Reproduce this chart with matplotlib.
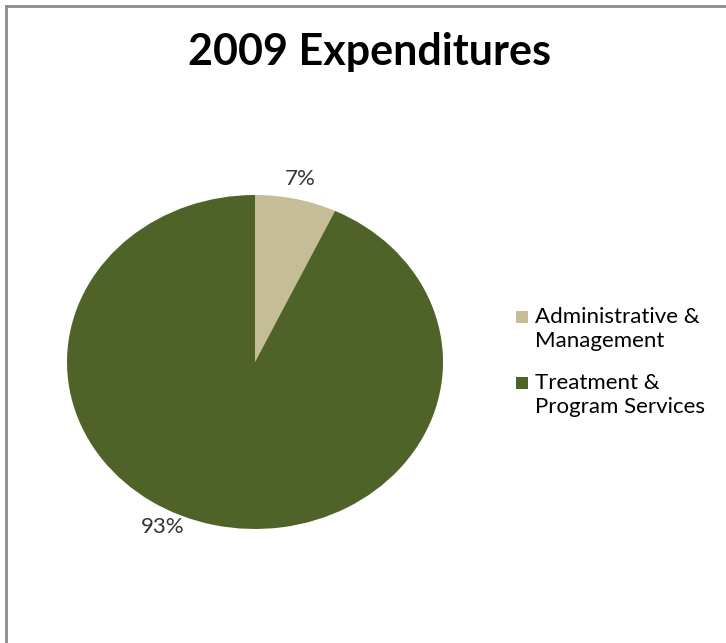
import matplotlib
matplotlib.use("Agg")
import matplotlib.pyplot as plt
from matplotlib.patches import Rectangle
import numpy as np

categories = ["Administrative &\nManagement", "Treatment &\nProgram Services"]
shares = [7, 93]
colors = ["#C4BD97", "#4F6228"]
title = "2009 Expenditures"

plt.rcParams["font.family"] = ["Lato", "DejaVu Sans"]

fig = plt.figure(figsize=(7.26, 6.43), dpi=100)
fig.patch.set_facecolor("white")

# chart frame (left and top edges visible)
fig.add_artist(plt.Line2D([6 / 726, 6 / 726], [0, 1 - 6 / 643], transform=fig.transFigure,
                          color="#8C8C8C", lw=2))
fig.add_artist(plt.Line2D([6 / 726, 1], [1 - 6 / 643, 1 - 6 / 643], transform=fig.transFigure,
                          color="#8C8C8C", lw=2))

ax = fig.add_axes([67 / 726, 114 / 643, 376 / 726, 334 / 643])
wedges, _ = ax.pie(shares, colors=colors, startangle=90, counterclock=False,
                   wedgeprops=dict(linewidth=0))
ax.set_aspect("auto")
ax.set_xlim(-1, 1)
ax.set_ylim(-1, 1)
ax.axis("off")

# percentage labels just outside the slices
label_pos = [(77.5, 1.12), (243.5, 1.105)]
for val, (ang, r) in zip(shares, label_pos):
    a = np.deg2rad(ang)
    ax.text(r * np.cos(a), r * np.sin(a), f"{val}%", ha="center", va="center",
            fontsize=16, color="#333333", clip_on=False)

fig.text(369 / 726, 1 - 52 / 643, title, ha="center", va="center",
         fontsize=31, fontweight="bold", color="black")

# legend
leg_y = [329, 395]
for cat, col, y in zip(categories, colors, leg_y):
    fig.add_artist(Rectangle((516 / 726, 1 - (y - 6) / 643), 12 / 726, 12 / 643,
                             transform=fig.transFigure, facecolor=col, edgecolor="none"))
    fig.text(535 / 726, 1 - y / 643, cat, ha="left", va="center",
             fontsize=16, color="black", linespacing=1.25)

fig.savefig("out.png", dpi=100, facecolor="white")
